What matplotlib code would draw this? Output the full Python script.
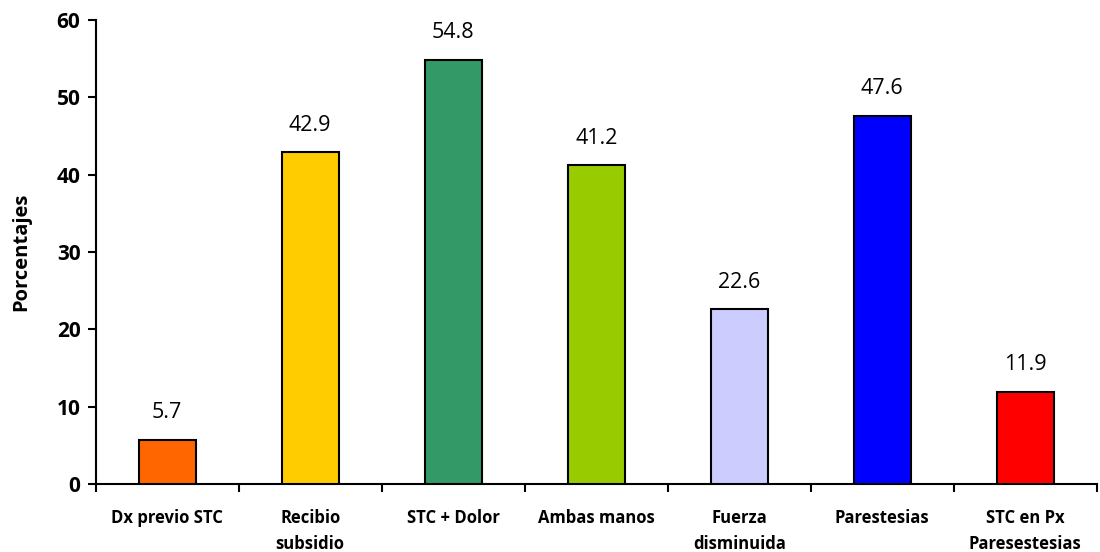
import numpy as np
import matplotlib
matplotlib.use("Agg")
import matplotlib.pyplot as plt

categorias = ["Dx previo STC", "Recibio\nsubsidio", "STC + Dolor", "Ambas manos",
              "Fuerza\ndisminuida", "Parestesias", "STC en Px\nParesestesias"]
valores = [5.7, 42.9, 54.8, 41.2, 22.6, 47.6, 11.9]
colores = ["#FF6600", "#FFCC00", "#339966", "#99CC00", "#CCCCFF", "#0000FF", "#FF0000"]
yticks = [0, 10, 20, 30, 40, 50, 60]

plt.rcParams['font.family'] = ['Open Sans', 'DejaVu Sans']

fig = plt.figure(figsize=(11, 5.52), dpi=100)
ax = fig.add_axes([0.087, 0.123, 0.91, 0.841])

x = np.arange(len(categorias))
bars = ax.bar(x, valores, width=0.4, color=colores, edgecolor="black", linewidth=1.5, zorder=3)

for b, v in zip(bars, valores):
    ax.annotate(f"{v:.1f}", (b.get_x() + b.get_width() / 2, v),
                xytext=(0, 12), textcoords="offset points",
                ha="center", va="bottom", fontsize=15.5)

ax.set_xlim(-0.5, len(categorias) - 0.5)
ax.set_ylim(0, 60)
ax.set_yticks(yticks)
ax.set_yticklabels([str(t) for t in yticks], fontsize=15, fontweight="bold")
ax.set_xticks(x)
ax.set_xticklabels(categorias, fontsize=12, fontweight="bold", linespacing=1.55, va="top")
ax.set_xticks(np.arange(len(categorias) + 1) - 0.5, minor=True)
ax.tick_params(axis="x", which="major", length=0, pad=18)
ax.tick_params(axis="x", which="minor", length=6, width=1.5, direction="out")
ax.tick_params(axis="y", length=6, width=1.5, direction="out", pad=5)
ax.set_ylabel("Porcentajes", fontsize=14.5, fontweight="bold", labelpad=18)

for s in ["top", "right"]:
    ax.spines[s].set_visible(False)
for s in ["left", "bottom"]:
    ax.spines[s].set_linewidth(1.5)

fig.savefig("out.png", dpi=100)
